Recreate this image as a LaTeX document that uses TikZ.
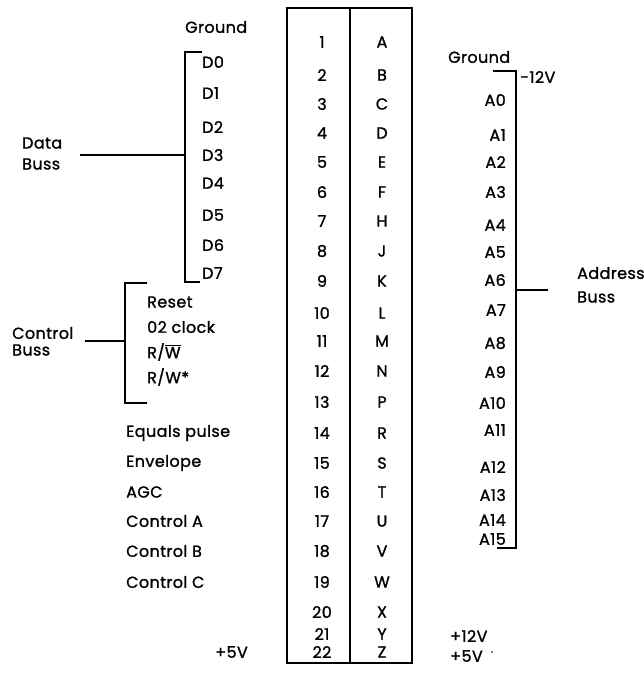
\documentclass[tikz,border=0pt]{standalone}
\usepackage{fontspec}
\setmainfont{Poppins}[LetterSpace=2.5,FakeBold=1.2]
\newcommand\ovbar[1]{$\overline{\hbox{#1}}$}
\begin{document}
\begin{tikzpicture}[x=1pt,y=-1pt,
  every node/.style={inner sep=0pt, font=\fontsize{16}{18}\selectfont},
  boxline/.style={line width=1.8pt},
  brk/.style={line width=1.5pt},
  lbl/.style={anchor=west},
  rlbl/.style={anchor=east},
  pin/.style={anchor=center}]
\useasboundingbox (0,0) rectangle (644,673);
% connector body
\coordinate (tl) at (287,8);
\coordinate (br) at (412,663);
\coordinate (tm) at (350,8);
\coordinate (bm) at (350,663);
\draw[boxline] (tl) rectangle (br);
\draw[boxline] (tm) -- (bm);
% pins
\foreach \n/\l/\y in {1/A/42,2/B/75,3/C/104,4/D/133,5/E/162,6/F/192,7/H/221,8/J/251,9/K/281,10/L/313,11/M/341,12/N/371,13/P/402,14/R/433,15/S/463,16/T/492,17/U/521,18/V/551,19/W/582,20/X/612,21/Y/634,22/Z/652}{
  \node[pin] (n\n) at (322,\y) {\n};
  \node[pin] (l\n) at (382,\y) {\l};
}
% data buss
\node[lbl] (gndL) at (185,27) {Ground};
\foreach \i/\y in {0/62,1/93,2/127,3/155,4/183,5/215,6/245,7/273}{
  \node[lbl] (d\i) at (202,\y) {D\i};
}
\coordinate (dtop) at (185,52);
\coordinate (dtopr) at (202,52);
\coordinate (dbot) at (185,282);
\coordinate (dbotr) at (200,282);
\coordinate (dmid) at (185,155);
\draw[brk] (dtopr) -- (dtop) -- (dbot) -- (dbotr);
\node[lbl] (dataT) at (22,143) {Data};
\node[lbl] (dataB) at (22,164) {Buss};
\coordinate (dline) at (80,155);
\draw[brk] (dline) -- (dmid);
% control buss
\coordinate (ctop) at (125,283);
\coordinate (ctopr) at (147,283);
\coordinate (cbot) at (125,403);
\coordinate (cbotr) at (147,403);
\coordinate (cmid) at (125,341);
\draw[brk] (ctopr) -- (ctop) -- (cbot) -- (cbotr);
\node[lbl] (reset) at (147,302) {Reset};
\node[lbl] (clk) at (147,327) {02 clock};
\node[lbl] (rw) at (147,352) {R/\ovbar{W}};
\node[lbl] (rws) at (147,377) {R/W*};
\node[lbl] (ctlT) at (12,333) {Control};
\node[lbl] (ctlB) at (12,350) {Buss};
\coordinate (cline) at (85,341);
\draw[brk] (cline) -- (cmid);
% misc left
\node[lbl] (eq) at (126,433) {Equals pulse};
\node[lbl] (env) at (126,463) {Envelope};
\node[lbl] (agc) at (126,492) {AGC};
\node[lbl] (cA) at (126,521) {Control A};
\node[lbl] (cB) at (126,551) {Control B};
\node[lbl] (cC) at (126,582) {Control C};
\node[rlbl] (p5L) at (248,652) {+5V};
% address buss
\node[lbl] (gndR) at (448,57) {Ground};
\node[lbl] (m12) at (520,77) {-12V};
\foreach \i/\y in {0/100,1/135,2/162,3/192,4/225,5/252,6/280,7/310,8/343,9/372,10/403,11/430,12/467,13/495,14/520,15/539}{
  \node[rlbl] (a\i) at (506,\y) {A\i};
}
\coordinate (atopl) at (493,71);
\coordinate (atop) at (516,71);
\coordinate (abot) at (516,548);
\coordinate (abotl) at (497,548);
\coordinate (amid) at (516,290);
\draw[brk] (atopl) -- (atop) -- (abot) -- (abotl);
\coordinate (aline) at (548,290);
\draw[brk] (amid) -- (aline);
\node[lbl] (addrT) at (577,273) {Address};
\node[lbl] (addrB) at (577,297) {Buss};
\node[lbl] (p12R) at (450,636) {+12V};
\node[lbl] (p5R) at (450,656) {+5V};
\fill (492,652) circle (0.8);
\end{tikzpicture}
\end{document}
